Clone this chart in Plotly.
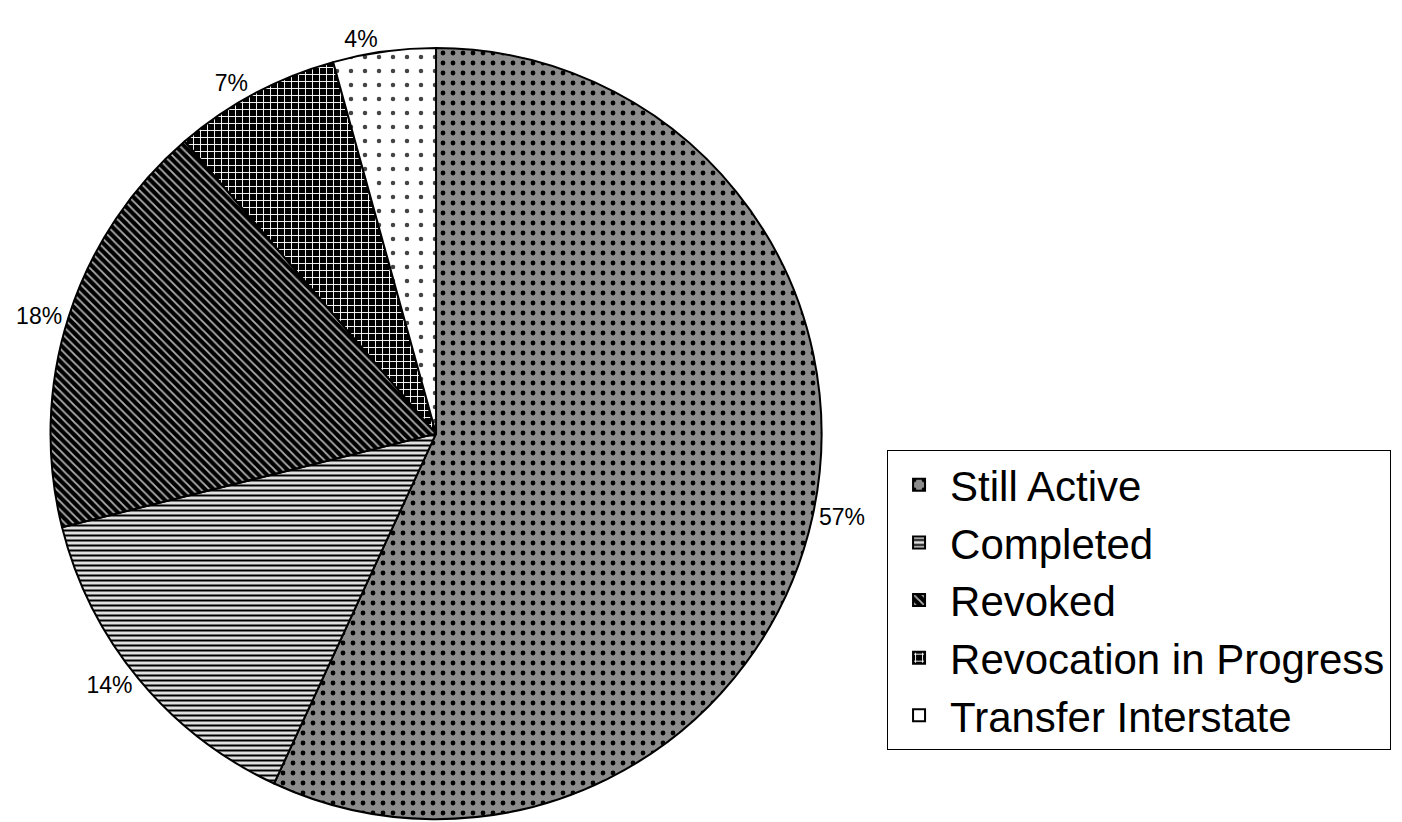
import plotly.graph_objects as go

labels = ["Still Active", "Completed", "Revoked", "Revocation in Progress", "Transfer Interstate"]
values = [56.9, 14.2, 17.6, 7.0, 4.3]

bgcolors = ["#8c8c8c", "#e0e0e0", "#000000", "#000000", "#ffffff"]
fgcolors = ["#000000", "#000000", "#b0b0b0", "#ffffff", "#444444"]
shapes = [".", "-", "\\", "+", "."]
sizes = [10, 5, 6, 7, 14]
solidities = [0.18, 0.4, 0.3, 0.25, 0.08]

fig = go.Figure(go.Pie(
    labels=labels,
    values=values,
    sort=False,
    direction="clockwise",
    rotation=0,
    textposition="outside",
    texttemplate="%{percent:.0%}",
    textfont=dict(size=23, color="black", family="Liberation Sans, Arial"),
    marker=dict(
        colors=bgcolors,
        line=dict(color="black", width=2),
        pattern=dict(shape=shapes, fgcolor=fgcolors, bgcolor=bgcolors,
                     size=sizes, solidity=solidities, fillmode="replace"),
    ),
    domain=dict(x=[0.0303, 0.5803], y=[0.0132, 0.9512]),
    hoverinfo="label+percent",
))

fig.update_layout(
    width=1402, height=822,
    margin=dict(l=0, r=0, t=0, b=0, autoexpand=False),
    paper_bgcolor="white",
    plot_bgcolor="white",
    font=dict(family="Liberation Sans, Arial", color="black"),
    legend=dict(
        x=0.627, xanchor="left",
        y=0.4622, yanchor="top",
        bordercolor="black", borderwidth=1,
        bgcolor="white",
        font=dict(size=42, color="black"),
        itemwidth=52,
        tracegroupgap=0,
    ),
    showlegend=True,
)

fig.write_html("out.html")
